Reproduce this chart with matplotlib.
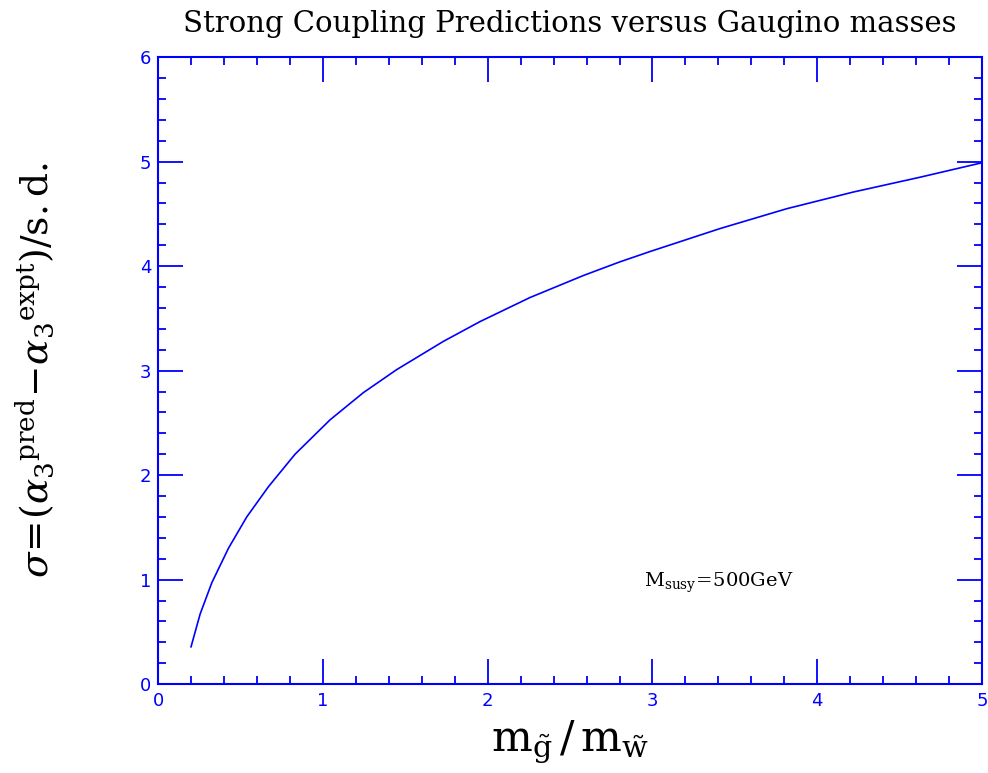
import numpy as np
import matplotlib.pyplot as plt
from matplotlib.ticker import MultipleLocator

# curve
ratio = [0.2, 0.255, 0.326, 0.427, 0.538, 0.67, 0.831, 1.044, 1.246, 1.448, 1.731,
         1.954, 2.257, 2.58, 2.80, 2.985, 3.41, 3.815, 4.22, 4.62, 5.0]
sigma = [0.357, 0.67, 0.97, 1.30, 1.60, 1.89, 2.20, 2.53, 2.79, 3.01, 3.28,
         3.47, 3.70, 3.91, 4.04, 4.14, 4.36, 4.55, 4.71, 4.85, 4.99]

plt.rcParams['mathtext.fontset'] = 'dejavuserif'

fig = plt.figure(figsize=(9.88, 7.73), dpi=100)
ax = fig.add_axes([0.16, 0.115, 0.834, 0.811])

ax.plot(ratio, sigma, color='blue', lw=1.2)

ax.set_xlim(0, 5)
ax.set_ylim(0, 6)
ax.xaxis.set_major_locator(MultipleLocator(1))
ax.xaxis.set_minor_locator(MultipleLocator(0.2))
ax.yaxis.set_major_locator(MultipleLocator(1))
ax.yaxis.set_minor_locator(MultipleLocator(0.2))
ax.tick_params(which='both', direction='in', top=True, right=True, colors='blue',
               labelsize=13, width=1.3)
ax.tick_params(which='major', length=18, pad=6)
ax.tick_params(which='minor', length=6)
ax.tick_params(axis='y', pad=5)
for s in ax.spines.values():
    s.set_color('blue')
    s.set_linewidth(1.5)

ax.set_title('Strong Coupling Predictions versus Gaugino masses',
             family='DejaVu Serif', fontsize=21, pad=18)
ax.set_xlabel(r'$\mathrm{m}_{\tilde{\mathrm{g}}}\,/\,\mathrm{m}_{\tilde{\mathrm{w}}}$',
              fontsize=31, labelpad=6)
ax.set_ylabel(r'$\sigma\!=\!(\alpha_3{}^{\mathrm{pred}}\!-\!\alpha_3{}^{\mathrm{expt}})/\mathrm{s.d.}$',
              fontsize=27, labelpad=60)
ax.text(2.95, 0.97, r'$\mathrm{M_{susy}\!=\!500GeV}$', fontsize=14,
        va='center', ha='left')

fig.savefig('out.png', dpi=100)
